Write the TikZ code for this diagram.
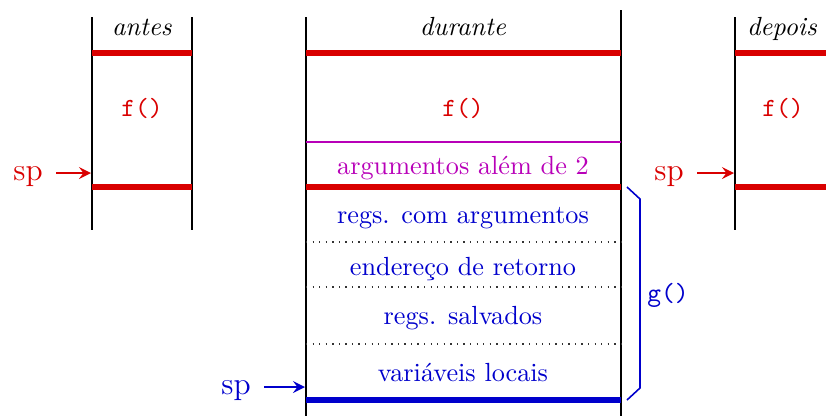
\documentclass[tikz,border=0pt]{standalone}
\usepackage{tikz}
\definecolor{fred}{rgb}{0.85,0,0}
\definecolor{gblue}{rgb}{0,0,0.8}
\definecolor{argpurple}{rgb}{0.72,0,0.72}
\tikzset{
  wall/.style={line width=0.4pt},
  top/.style={line width=2pt,fred},
  sep/.style={dotted,line width=0.5pt,black!80},
  lbl/.style={inner sep=0pt,anchor=base},
  spl/.style={inner sep=1pt,font=\large}
}
\begin{document}
\begin{tikzpicture}[x=0.0134cm,y=-0.0134cm]
  \useasboundingbox (0,0) rectangle (826,416);
  % antes
  \draw[wall] (92,17) -- (92,230); \draw[wall] (192,17) -- (192,230);
  \draw[top] (92,53) -- (192,53); \draw[top] (92,187) -- (192,187);
  \node[lbl] (antes) at (142,35) {\textit{antes}};
  \node[lbl,fred] (fa) at (142,116) {\texttt{f()}};
  \node[spl,fred] (spa) at (28,177) {sp};
  \coordinate (pa) at (91,173);
  \draw[->,>=stealth,fred,line width=1pt] (spa.east |- pa) ++(4pt,0) -- (pa);
  % durante
  \draw[wall] (306,17) -- (306,416); \draw[wall] (621,10) -- (621,416);
  \draw[top] (306,53) -- (621,53);
  \node[lbl] (durante) at (463,35) {\textit{durante}};
  \node[lbl,fred] (fd) at (463,116) {\texttt{f()}};
  \draw[argpurple,line width=1pt] (306,142) -- (621,142);
  \node[lbl,argpurple] (args) at (463,174) {argumentos além de 2};
  \draw[top] (306,187) -- (621,187);
  \node[lbl,gblue] (regs) at (463,223) {regs. com argumentos};
  \draw[sep] (306,242) -- (621,242);
  \node[lbl,gblue] (ret) at (463,275) {endereço de retorno};
  \draw[sep] (306,287) -- (621,287);
  \node[lbl,gblue] (salv) at (463,324) {regs. salvados};
  \draw[sep] (306,344) -- (621,344);
  \node[lbl,gblue] (locais) at (463,381) {variáveis locais};
  \draw[line width=2pt,gblue] (306,400) -- (621,400);
  \node[spl,gblue] (spd) at (236,391) {sp};
  \coordinate (pd) at (305,387);
  \draw[->,>=stealth,gblue,line width=1pt] (spd.east |- pd) ++(4pt,0) -- (pd);
  % chave de g()
  \draw[gblue,line width=0.6pt] (627,187) -- (640,199) -- (640,388) -- (627,400);
  \node[lbl,gblue] (g) at (668,301) {\texttt{g()}};
  % depois
  \draw[wall] (735,17) -- (735,230);
  \draw[top] (735,53) -- (826,53); \draw[top] (735,187) -- (826,187);
  \node[lbl] (depois) at (782,35) {\textit{depois}};
  \node[lbl,fred] (fp) at (783,116) {\texttt{f()}};
  \node[spl,fred] (spp) at (669,177) {sp};
  \coordinate (pp) at (734,173);
  \draw[->,>=stealth,fred,line width=1pt] (spp.east |- pp) ++(4pt,0) -- (pp);
\end{tikzpicture}
\end{document}
